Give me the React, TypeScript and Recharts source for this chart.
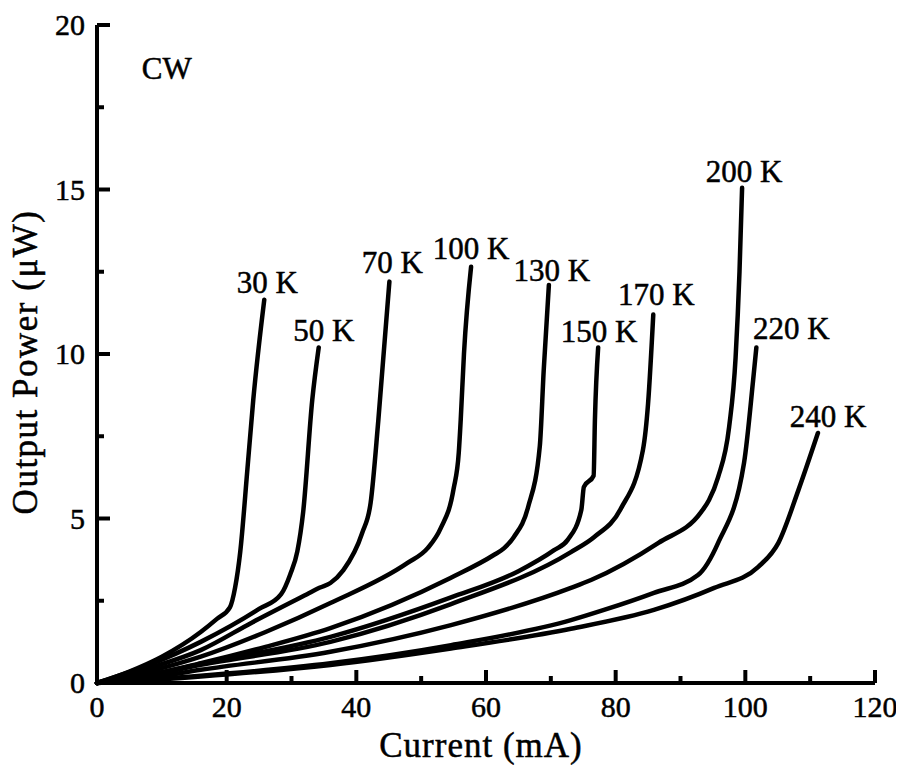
import React from 'react';
import { LineChart, Line, XAxis, YAxis, ReferenceDot } from 'recharts';

// ---- data (current in mA, output power in µW) ----
const current30K = [0, 5, 10, 16, 18.5, 20.5, 21.3, 22.1, 23.2, 24.1, 25.8];
const power30K = [0, 0.35, 0.8, 1.55, 1.95, 2.3, 2.9, 4.0, 6.5, 8.6, 11.65];

const current50K = [0, 8, 16, 25, 28.4, 29.8, 30.9, 31.8, 33.2, 34.2];
const power50K = [0, 0.55, 1.25, 2.25, 2.7, 3.3, 4.0, 5.2, 8.6, 10.2];

const current70K = [0, 8, 16, 24, 32.4, 34.4, 36, 38, 40.9, 42.2, 43.4, 45.1];
const power70K = [0, 0.45, 1.0, 1.85, 2.7, 2.9, 3.04, 3.43, 4.56, 5.47, 8.0, 12.2];

const current100K = [0, 8, 16, 26, 36, 47.9, 51, 53, 55, 55.8, 56.1, 56.6, 57.7];
const power100K = [0, 0.35, 0.8, 1.55, 2.43, 3.65, 4.1, 4.7, 5.9, 7.0, 8.0, 10.0, 12.65];

const current130K = [0, 8, 16, 26, 36, 54.6, 61.2, 62.8, 64.3, 66.5, 68.3, 68.9, 69.7];
const power130K = [0, 0.25, 0.6, 1.1, 1.67, 3.2, 3.89, 4.1, 4.44, 5.35, 7.2, 9.5, 12.1];

const current150K = [0, 8, 16, 36, 54.6, 65, 70.5, 72.6, 74.7, 75.1, 76.6, 76.8, 77.3];
const power150K = [0, 0.25, 0.58, 1.4, 2.6, 3.4, 4.04, 4.35, 5.26, 5.96, 6.3, 8.0, 10.2];

const current170K = [0, 8, 16, 36, 54.6, 73.1, 76.7, 80.8, 84.2, 85.0, 85.8];
const power170K = [0, 0.23, 0.55, 1.25, 2.4, 3.98, 4.44, 5.3, 7.08, 8.5, 11.2];

const current200K = [0, 8, 16, 36, 54.6, 73.1, 76.2, 86.6, 93.2, 94.4, 95.8, 97.5, 98.5, 99.1, 99.5];
const power200K = [0, 0.15, 0.4, 0.95, 1.76, 2.89, 3.13, 4.26, 5.2, 5.56, 6.26, 7.78, 9.9, 12.5, 15.05];

const current220K = [0, 16, 36, 54.6, 73.1, 78.2, 85.9, 92.7, 95.8, 99.8, 101.2, 101.7];
const power220K = [0, 0.22, 0.6, 1.15, 1.91, 2.22, 2.74, 3.28, 4.26, 6.69, 9.2, 10.2];

const current240K = [0, 16, 36, 54.6, 73.1, 85.9, 95.2, 102.0, 105.1, 108.2, 111.2];
const power240K = [0, 0.2, 0.55, 1.05, 1.65, 2.22, 2.89, 3.53, 4.26, 5.87, 7.6];

const curveNames = ['30 K', '50 K', '70 K', '100 K', '130 K', '150 K', '170 K', '200 K', '220 K', '240 K'];
const curveCurrents = [current30K, current50K, current70K, current100K, current130K, current150K, current170K, current200K, current220K, current240K];
const curvePowers = [power30K, power50K, power70K, power100K, power130K, power150K, power170K, power200K, power220K, power240K];

const xTicks = [0, 10, 20, 30, 40, 50, 60, 70, 80, 90, 100, 110, 120];
const yTicks = [0, 2.5, 5, 7.5, 10, 12.5, 15, 17.5, 20];

const annotationText = 'CW';
const annotationPos = { x: 6.9, y: 18.35 };

// ---- styling (pixel offsets of each curve label from its curve end) ----
const labelOffsets: [number, number][] = [
  [3, -7], [5, -6], [3, -9], [0, -8], [3, -4], [1, -5], [3, -10], [2, -6], [35, -8], [10, -6],
];

const FONT = '"Liberation Serif", "Times New Roman", Times, serif';
const textStyle = { fill: '#000', stroke: '#000', strokeWidth: 0.5, style: { fontFamily: FONT } } as const;

const series = curveNames.map((name, i) => ({
  name,
  data: curveCurrents[i].map((x, j) => ({ x, y: curvePowers[i][j] })),
}));

const XTick = (props: any) => {
  const { x, y, payload } = props;
  const major = payload.value % 20 === 0;
  return (
    <g>
      <line x1={x} x2={x} y1={y} y2={y - (major ? 13 : 7)} stroke="#000" strokeWidth={4} />
      {major && (
        <text x={x} y={y + 34} textAnchor="middle" fontSize={30} {...textStyle}>
          {payload.value}
        </text>
      )}
    </g>
  );
};

const YTick = (props: any) => {
  const { x, y, payload } = props;
  const major = payload.value % 5 === 0;
  return (
    <g>
      <line x1={x} x2={x + (major ? 13 : 7)} y1={y} y2={y} stroke="#000" strokeWidth={4} />
      {major && (
        <text x={x - 12} y={y + 10} textAnchor="end" fontSize={30} {...textStyle}>
          {payload.value}
        </text>
      )}
    </g>
  );
};

const XTitle = (props: any) => {
  const vb = props.viewBox || { x: 97, y: 683, width: 778, height: 82 };
  return (
    <text x={vb.x + vb.width / 2 - 5} y={vb.y + 74} textAnchor="middle" fontSize={35} letterSpacing={1} {...textStyle}>
      Current (mA)
    </text>
  );
};

const YTitle = (props: any) => {
  const vb = props.viewBox || { x: 0, y: 25, width: 97, height: 658 };
  const tx = vb.x + 37;
  const ty = vb.y + vb.height / 2 + 8;
  return (
    <text transform={`translate(${tx},${ty}) rotate(-90)`} textAnchor="middle" fontSize={35} letterSpacing={1.5} {...textStyle}>
      Output Power (μW)
    </text>
  );
};

export default function App() {
  return (
    <div style={{ margin: '-8px 0 0 -8px', width: 904, height: 765 }}>
      <LineChart width={904} height={765} margin={{ top: 25, right: 29, bottom: 0, left: 0 }}>
        <XAxis
          xAxisId={0}
          dataKey="x"
          type="number"
          domain={[0, 120]}
          ticks={xTicks}
          interval={0}
          height={82}
          tickSize={0}
          tickMargin={0}
          tickLine={false}
          tick={(p: any) => <XTick {...p} />}
          axisLine={{ stroke: '#000', strokeWidth: 4 }}
          label={{ content: (p: any) => <XTitle {...p} /> }}
        />
        <XAxis xAxisId="top" orientation="top" type="number" domain={[0, 120]} height={0} tick={false} tickLine={false} axisLine={{ stroke: '#000', strokeWidth: 4 }} />
        <YAxis
          yAxisId={0}
          type="number"
          domain={[0, 20]}
          ticks={yTicks}
          interval={0}
          width={97}
          tickSize={0}
          tickMargin={0}
          tickLine={false}
          tick={(p: any) => <YTick {...p} />}
          axisLine={{ stroke: '#000', strokeWidth: 4 }}
          label={{ content: (p: any) => <YTitle {...p} /> }}
        />
        <YAxis yAxisId="right" orientation="right" type="number" domain={[0, 20]} width={0} tick={false} tickLine={false} axisLine={{ stroke: '#000', strokeWidth: 4 }} />
        {series.map((s) => (
          <Line
            key={s.name}
            data={s.data}
            dataKey="y"
            type="monotone"
            stroke="#000"
            strokeWidth={4.5}
            strokeLinejoin="round"
            strokeLinecap="round"
            dot={false}
            activeDot={false}
            isAnimationActive={false}
          />
        ))}
        {series.map((s, i) => {
          const last = s.data[s.data.length - 1];
          const [dx, dy] = labelOffsets[i];
          return (
            <ReferenceDot
              key={'lbl' + s.name}
              x={last.x}
              y={last.y}
              r={0}
              shape={(p: any) => (
                <text x={p.cx + dx} y={p.cy + dy} textAnchor="middle" fontSize={31} {...textStyle}>
                  {s.name}
                </text>
              )}
            />
          );
        })}
        <ReferenceDot
          x={annotationPos.x}
          y={annotationPos.y}
          r={0}
          shape={(p: any) => (
            <text x={p.cx} y={p.cy} textAnchor="start" fontSize={31} {...textStyle}>
              {annotationText}
            </text>
          )}
        />
      </LineChart>
    </div>
  );
}
